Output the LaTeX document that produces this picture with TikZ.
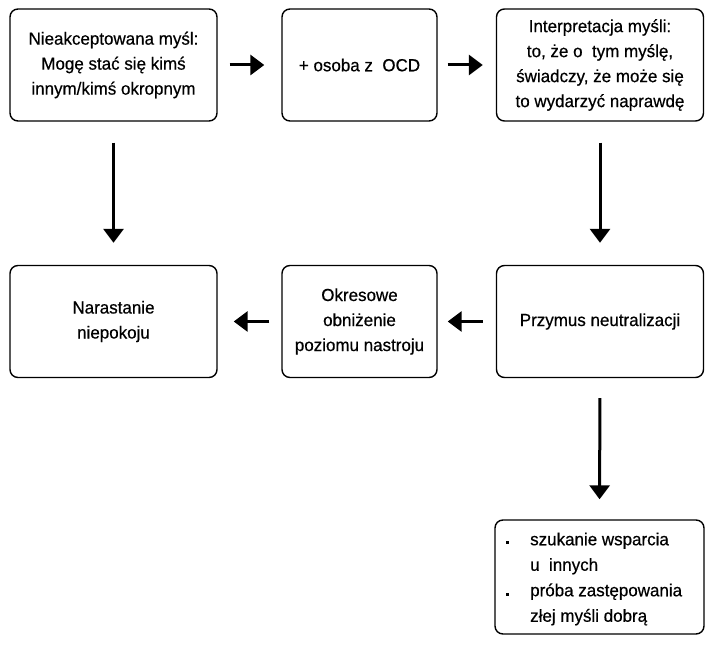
\documentclass[tikz,border=0pt]{standalone}
\usepackage{fontspec}
\setmainfont{Liberation Sans}[FakeStretch=0.97,FakeBold=0.5]
\usetikzlibrary{arrows.meta}
\begin{document}
\begin{tikzpicture}[x=1pt,y=-1pt,
  box/.style={draw, line width=1.4pt, rounded corners=8pt, align=center,
    font=\fontsize{17.5}{25}\selectfont, inner sep=0pt},
  wide/.style={minimum width=207pt, minimum height=112pt},
  narrow/.style={minimum width=155pt, minimum height=112pt},
  txt/.style={align=left, inner sep=0pt, font=\fontsize{17.5}{25.5}\selectfont},
  bul/.style={fill, minimum size=3pt, inner sep=0pt},
  arr/.style={line width=3pt, -{Triangle[width=20pt,length=14pt]}}]
\useasboundingbox[fill=white] (0,0) rectangle (713,647);
\node[box, wide] (a) at (113.5,65) {Nieakceptowana myśl:\\Mogę stać się kimś\\innym/kimś okropnym};
\node[box, narrow] (b) at (359.5,65) {+ osoba z\ \ OCD};
\node[box, wide] (c) at (600,65) {Interpretacja myśli:\\to, że o\ \ tym myślę,\\świadczy, że może się\\to wydarzyć naprawdę};
\node[box, wide] (d) at (113.5,321.5) {Narastanie\\niepokoju};
\node[box, narrow] (e) at (359.5,321.5) {Okresowe\\obniżenie\\poziomu nastroju};
\node[box, wide] (f) at (600,321.5) {Przymus neutralizacji};
\node[box, minimum width=209pt, minimum height=114pt] (g) at (599.5,577) {};
\node[txt, anchor=west] (gt) at (530,579) {szukanie wsparcia\\u\ \ innych\\próba zastępowania\\złej myśli dobrą};
\node[bul] (b1) at (507,542) {};
\node[bul] (b2) at (507,594) {};
\draw[arr, shorten <=12pt, shorten >=17pt] (a.east) -- (b.west);
\draw[arr, shorten <=10pt, shorten >=13pt] (b.east) -- (c.west);
\draw[arr, shorten <=13pt, shorten >=10pt] (f.west) -- (e.east);
\draw[arr, shorten <=12pt, shorten >=16pt] (e.west) -- (d.east);
\draw[arr, shorten <=21pt, shorten >=22pt] (a.south) -- (d.north);
\draw[arr, shorten <=21pt, shorten >=22pt] (c.south) -- (f.north);
\draw[arr, shorten <=20pt, shorten >=20pt] (f.south) -- (g.north);
\end{tikzpicture}
\end{document}
